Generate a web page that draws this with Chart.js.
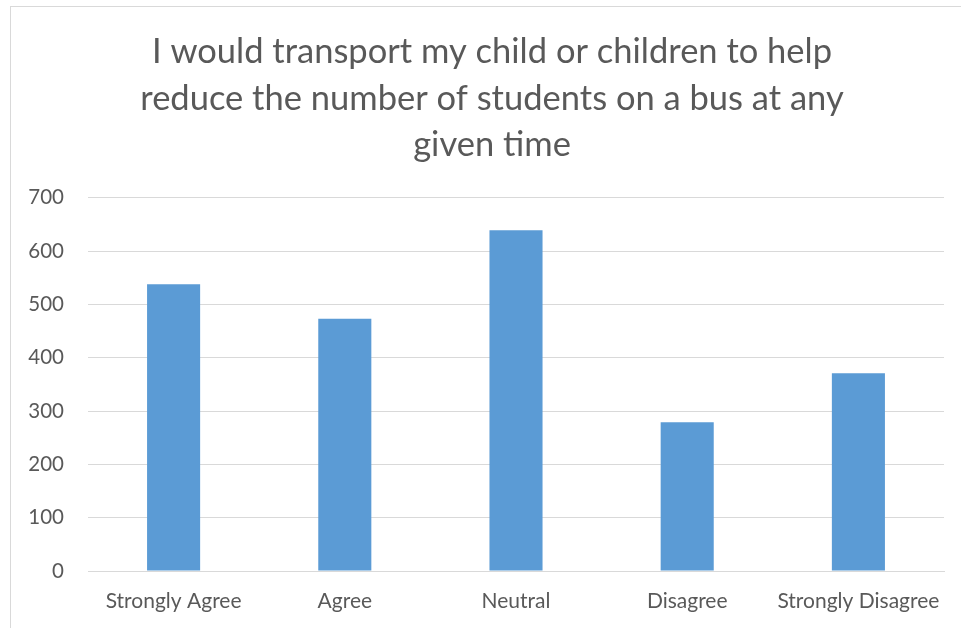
<!DOCTYPE html>
<html>
<head>
<meta charset="utf-8">
<script src="https://cdn.jsdelivr.net/npm/chart.js@4"></script>
<style>
  html, body { margin: 0; padding: 0; background: #fff; overflow: hidden; }
  #box { position: absolute; left: 10px; top: 6px; width: 960px; height: 640px;
         border-left: 1px solid #d9d9d9; border-top: 1px solid #d9d9d9; }
  #wrap { position: absolute; left: 1px; top: 1px; width: 950px; height: 621px; }
</style>
</head>
<body>
<div id="box"><div id="wrap"><canvas id="surveyChart"></canvas></div></div>
<script>
// chart data
const categories = ["Strongly Agree", "Agree", "Neutral", "Disagree", "Strongly Disagree"];
const responses = [538, 473, 639, 279, 371];
const titleLines = ["I would transport my child or children to help",
                    "reduce the number of students on a bus at any",
                    "given time"];
const yTicks = [0, 100, 200, 300, 400, 500, 600, 700];

const textColor = "#595959";
const fontName = "Lato, 'Open Sans', sans-serif";

// nudge the title box so it centres like the original (it sits a bit right)
const titleShift = {
    id: "titleShift",
    afterLayout(chart) {
        if (chart.titleBlock) chart.titleBlock.left += 28;
    }
};

const ctx = document.getElementById("surveyChart").getContext("2d");
new Chart(ctx, {
    type: "bar",
    data: {
        labels: categories,
        datasets: [{
            data: responses,
            backgroundColor: "#5b9bd5",
            categoryPercentage: 1,
            barPercentage: 0.31
        }]
    },
    options: {
        responsive: true,
        maintainAspectRatio: false,
        animation: false,
        layout: { padding: { left: 0, right: 18, top: 0, bottom: 0 } },
        plugins: {
            legend: { display: false },
            tooltip: { enabled: false },
            title: {
                display: true,
                text: titleLines,
                color: textColor,
                font: { family: fontName, size: 34.5, weight: "normal", lineHeight: 1.36 },
                padding: { top: 20, bottom: 29 }
            }
        },
        scales: {
            x: {
                grid: { display: false, drawTicks: false },
                border: { color: "#d9d9d9", width: 1 },
                ticks: { color: textColor, font: { family: fontName, size: 21 }, padding: 18, maxRotation: 0 },
                afterFit: (axis) => { axis.height = 58; }
            },
            y: {
                min: 0,
                max: 700,
                afterBuildTicks: (axis) => { axis.ticks = yTicks.map(v => ({ value: v })); },
                grid: { color: "#d9d9d9", lineWidth: 1, drawTicks: false },
                border: { display: false },
                ticks: { color: textColor, font: { family: fontName, size: 20.5 }, padding: 24 },
                afterFit: (axis) => { axis.width = 76; }
            }
        }
    },
    plugins: [titleShift]
});
</script>
</body>
</html>
